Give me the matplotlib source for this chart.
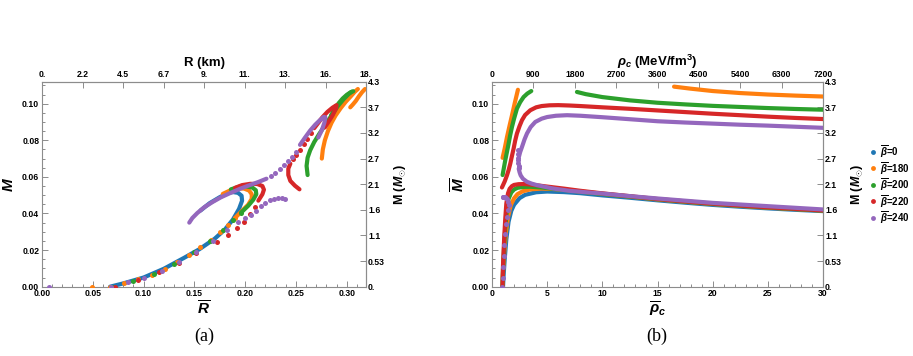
import matplotlib
matplotlib.use("Agg")
import matplotlib.pyplot as plt
from matplotlib.lines import Line2D
from matplotlib.ticker import MultipleLocator

plt.rcParams['font.family'] = ['Liberation Sans', 'DejaVu Sans']
plt.rcParams['mathtext.fontset'] = 'custom'
plt.rcParams['mathtext.it'] = 'Liberation Sans:italic:bold'
plt.rcParams['mathtext.rm'] = 'Liberation Sans:bold'
plt.rcParams['mathtext.bf'] = 'Liberation Sans:bold'

# ---------------- data ----------------
series_labels = [r'$\overline{\beta}$=0', r'$\overline{\beta}$=180', r'$\overline{\beta}$=200',
                 r'$\overline{\beta}$=220', r'$\overline{\beta}$=240']
colors = ['#1f77b4', '#ff7f0e', '#2ca02c', '#d62728', '#9467bd']

# ---- panel (a): Rbar vs Mbar ----
# beta = 0
a0_R = [0.067, 0.08, 0.10, 0.12, 0.14, 0.155, 0.17, 0.18, 0.188, 0.194, 0.197, 0.1965, 0.193, 0.188, 0.183, 0.175, 0.165, 0.156]
a0_M = [0.0, 0.0018, 0.005, 0.0098, 0.0158, 0.0205, 0.0262, 0.0312, 0.0367, 0.0425, 0.047, 0.0497, 0.0513, 0.0517, 0.0512, 0.0489, 0.0456, 0.0416]
# beta = 180
a180_dotR = [0.049, 0.067, 0.081, 0.095, 0.108, 0.121, 0.133, 0.145, 0.156, 0.166, 0.175, 0.183, 0.19]
a180_dotM = [0.0, 0.0, 0.0022, 0.004, 0.0066, 0.0098, 0.0135, 0.0175, 0.0215, 0.0255, 0.0298, 0.0338, 0.0375]
a180_R1 = [0.19, 0.197, 0.203, 0.2065, 0.2065, 0.204, 0.199, 0.193, 0.186, 0.178]
a180_M1 = [0.0375, 0.0415, 0.0448, 0.048, 0.0505, 0.0525, 0.0536, 0.0537, 0.0528, 0.0507]
a180_R2 = [0.2755, 0.2765, 0.2785, 0.2815, 0.285, 0.289, 0.294, 0.299, 0.304, 0.308, 0.311]
a180_M2 = [0.070, 0.075, 0.080, 0.085, 0.0895, 0.0935, 0.0975, 0.101, 0.104, 0.1065, 0.108]
a180_R3 = [0.3035, 0.306, 0.309, 0.312, 0.315, 0.318]
a180_M3 = [0.098, 0.0995, 0.1015, 0.104, 0.1062, 0.108]
# beta = 200
a200_dotR = [0.07, 0.09, 0.11, 0.13, 0.15, 0.165, 0.178, 0.188, 0.196]
a200_dotM = [0.0, 0.003, 0.0072, 0.0125, 0.019, 0.025, 0.0308, 0.0362, 0.0405]
a200_R1 = [0.196, 0.203, 0.208, 0.211, 0.2105, 0.207, 0.201, 0.194, 0.186]
a200_M1 = [0.0405, 0.0442, 0.0475, 0.0505, 0.0527, 0.0542, 0.0548, 0.0546, 0.0532]
a200_R2 = [0.2615, 0.2605, 0.2615, 0.264, 0.268, 0.273, 0.279, 0.285, 0.291, 0.297, 0.302, 0.305]
a200_M2 = [0.061, 0.066, 0.0705, 0.0745, 0.079, 0.0835, 0.0885, 0.0935, 0.0985, 0.1025, 0.1053, 0.1065]
a200_R3 = [0.2845, 0.288, 0.292, 0.296, 0.300, 0.304, 0.3065]
a200_M3 = [0.0935, 0.097, 0.1002, 0.1028, 0.1048, 0.1063, 0.1068]
# beta = 220
a220_dotR = [0.072, 0.095, 0.115, 0.135, 0.152, 0.172, 0.183, 0.192, 0.199, 0.205, 0.21,
             0.247, 0.2505, 0.254, 0.2575, 0.261, 0.2645]
a220_dotM = [0.0, 0.0035, 0.0078, 0.013, 0.0185, 0.0245, 0.0285, 0.032, 0.0355, 0.0395, 0.0435,
             0.0695, 0.0722, 0.0748, 0.0778, 0.0808, 0.0838]
a220_R1 = [0.213, 0.217, 0.2185, 0.217, 0.212, 0.205, 0.197, 0.19]
a220_M1 = [0.047, 0.0505, 0.053, 0.055, 0.0561, 0.0562, 0.0555, 0.054]
a220_R2 = [0.2535, 0.249, 0.2445, 0.2425, 0.2425, 0.2445]
a220_M2 = [0.0532, 0.0552, 0.0578, 0.061, 0.0645, 0.0672]
a220_R3 = [0.268, 0.272, 0.276, 0.281, 0.286, 0.29, 0.2895, 0.286, 0.282, 0.2785]
a220_M3 = [0.0866, 0.0895, 0.0925, 0.0955, 0.0978, 0.0992, 0.0975, 0.0935, 0.090, 0.087]
# beta = 240
a240_dotR = [0.007, 0.068, 0.085, 0.1, 0.118, 0.135, 0.152, 0.168, 0.182, 0.193, 0.2, 0.206, 0.211,
             0.216, 0.22, 0.224, 0.228, 0.232, 0.236, 0.239,
             0.225, 0.229, 0.234, 0.238, 0.242, 0.246, 0.25]
a240_dotM = [0.0, 0.0, 0.0025, 0.005, 0.0088, 0.0135, 0.019, 0.025, 0.031, 0.0355, 0.0375, 0.0391, 0.0415,
             0.044, 0.046, 0.0473, 0.048, 0.0483, 0.0482, 0.0478,
             0.0605, 0.0622, 0.0645, 0.0665, 0.0688, 0.071, 0.0735]
a240_R1 = [0.145, 0.148, 0.153, 0.16, 0.168, 0.176, 0.185, 0.195, 0.205, 0.213, 0.221]
a240_M1 = [0.035, 0.0375, 0.0403, 0.0435, 0.0463, 0.0488, 0.0511, 0.0535, 0.0556, 0.0572, 0.059]
a240_R2 = [0.254, 0.259, 0.264, 0.269, 0.274, 0.2775, 0.279, 0.278, 0.2755, 0.272]
a240_M2 = [0.0775, 0.0815, 0.0853, 0.0885, 0.0912, 0.0928, 0.0925, 0.0895, 0.0855, 0.0815]

# ---- panel (b): rho_c bar vs Mbar ----
b0_rho = [1.0, 1.05, 1.15, 1.3, 1.5, 1.75, 2.0, 2.5, 3.0, 4.0, 5.0, 6.5, 8.0, 10, 12.5, 15, 17.5, 20, 22.5, 25, 27.5, 30]
b0_M = [0.0, 0.006, 0.015, 0.026, 0.0355, 0.0415, 0.0448, 0.0484, 0.0502, 0.0516, 0.052, 0.0517, 0.0511, 0.0499,
        0.0486, 0.0472, 0.0459, 0.0447, 0.0437, 0.0428, 0.042, 0.0413]
b180_rho1 = [0.95, 1.0, 1.1, 1.25, 1.45, 1.7, 2.0, 2.3, 2.8, 3.5, 4.5, 5.5, 7, 10, 15, 20, 25, 30]
b180_M1 = [0.0, 0.008, 0.018, 0.029, 0.038, 0.0445, 0.0483, 0.0505, 0.0522, 0.0532, 0.0536, 0.0534, 0.0527,
           0.0508, 0.0477, 0.0452, 0.0432, 0.0416]
b180_rho2 = [0.96, 1.15, 1.36, 1.6, 1.81, 2.05, 2.35]
b180_M2 = [0.0704, 0.0755, 0.0818, 0.0882, 0.0936, 0.1, 0.1076]
b180_rho3 = [16.5, 18, 20, 22.5, 25, 27.5, 30]
b180_M3 = [0.1093, 0.1082, 0.1069, 0.1058, 0.105, 0.1044, 0.1039]
b200_rho1 = [0.95, 1.0, 1.1, 1.2, 1.35, 1.5, 1.75, 2.0, 2.3, 2.8, 3.5, 4.5, 6, 8, 10, 15, 20, 25, 30]
b200_M1 = [0.0, 0.01, 0.022, 0.032, 0.042, 0.048, 0.0515, 0.0531, 0.054, 0.0545, 0.0546, 0.0542, 0.0532,
           0.0519, 0.0507, 0.0478, 0.0453, 0.0433, 0.0416]
b200_rho2 = [0.96, 1.08, 1.2, 1.35, 1.5, 1.65, 1.81, 2.0, 2.26, 2.55, 2.86, 3.2, 3.56]
b200_M2 = [0.061, 0.065, 0.069, 0.0735, 0.078, 0.0828, 0.0873, 0.0918, 0.0973, 0.1008, 0.1036, 0.1055, 0.1069]
b200_rho3 = [7.7, 8.5, 10, 12.5, 15, 17.5, 20, 22.5, 25, 27.5, 30]
b200_M3 = [0.1064, 0.1052, 0.1036, 0.1018, 0.1005, 0.0996, 0.0988, 0.0982, 0.0976, 0.0971, 0.0967]
b220_rho1 = [0.95, 1.0, 1.1, 1.2, 1.3, 1.45, 1.6, 1.8, 2.0, 2.4, 2.9, 3.5, 4.2, 5, 6.5, 8, 10, 15, 20, 25, 30]
b220_M1 = [0.0, 0.012, 0.026, 0.037, 0.0455, 0.051, 0.0535, 0.0549, 0.0556, 0.056, 0.0561, 0.0558, 0.0553,
           0.0547, 0.0536, 0.0524, 0.051, 0.0479, 0.0454, 0.0434, 0.0417]
b220_rho2 = [0.9, 1.0, 1.15, 1.36, 1.5, 1.66, 1.8, 1.96, 2.1, 2.26, 2.5, 2.72, 3.0, 3.47, 4.0, 4.5, 5.2, 6.0,
             7, 8, 10, 12.5, 15, 17.5, 20, 22.5, 25, 27.5, 30]
b220_M2 = [0.0542, 0.0555, 0.0575, 0.0609, 0.0636, 0.0673, 0.0712, 0.0755, 0.0798, 0.0837, 0.0878, 0.091,
           0.0938, 0.0964, 0.098, 0.0987, 0.0991, 0.0992, 0.099, 0.0987, 0.098, 0.0972, 0.0963, 0.0954, 0.0945,
           0.0937, 0.0929, 0.0922, 0.0916]
b240_dotrho = [0.95, 0.98, 1.02, 1.07, 1.13, 1.2, 1.28, 1.36, 1.44, 1.5, 1.46, 1.38, 1.3, 1.2, 1.1, 1.0, 0.96,
               2.38, 2.39, 2.4, 2.41, 2.42, 2.36, 2.35]
b240_dotM = [0.0, 0.005, 0.011, 0.017, 0.023, 0.029, 0.034, 0.038, 0.042, 0.0445, 0.0465, 0.0477, 0.0485,
             0.049, 0.0492, 0.0492, 0.049, 0.0705, 0.069, 0.0675, 0.066, 0.0648, 0.0725, 0.0745]
b240_rho1 = [2.45, 2.55, 2.72, 2.95, 3.17, 3.5, 3.92, 4.5, 5.0, 5.8, 6.8, 8, 10, 12.5, 15, 17.5, 20, 22.5, 25, 27.5, 30]
b240_M1 = [0.0712, 0.0735, 0.0764, 0.0805, 0.0837, 0.0872, 0.09, 0.0918, 0.0927, 0.0934, 0.0937, 0.0934, 0.0926,
           0.0915, 0.0904, 0.0897, 0.0891, 0.0885, 0.088, 0.0874, 0.0868]
b240_rho2 = [2.42, 2.5, 2.6, 2.8, 3.17, 3.6, 4.07, 5.0, 5.58, 7, 8.5, 10, 12.5, 15, 17.5, 20, 22.5, 25, 27.5, 30]
b240_M2 = [0.0645, 0.0625, 0.0608, 0.059, 0.0573, 0.0563, 0.0555, 0.0543, 0.0536, 0.0524, 0.0516, 0.0509, 0.0495,
           0.0482, 0.047, 0.0458, 0.0449, 0.044, 0.0431, 0.0422]

# tick labels
R_km_labels = ['0.', '2.2', '4.5', '6.7', '9.', '11.', '13.', '16.', '18.']
rho_phys_labels = ['0', '900', '1800', '2700', '3600', '4500', '5400', '6300', '7200']
M_sun_labels = ['0.', '0.53', '1.1', '1.6', '2.1', '2.7', '3.2', '3.7', '4.3']

# ---------------- drawing ----------------
W, H = 913, 356
fig = plt.figure(figsize=(W / 100, H / 100), dpi=100)
axA = fig.add_axes([42 / W, 69.3 / H, 324 / W, 205 / H])
axB = fig.add_axes([492 / W, 69.3 / H, 331 / W, 205 / H])

LW = 3.0
MS = 3.6


def line(ax, x, y, c):
    ax.plot(x, y, color=c, lw=LW, solid_capstyle='round', solid_joinstyle='round', zorder=3)


def dots(ax, x, y, c):
    ax.plot(x, y, ls='none', marker='o', ms=MS, mec='none', mfc=c, zorder=3)


c0, c180, c200, c220, c240 = colors
# panel a
line(axA, a0_R, a0_M, c0)
dots(axA, a180_dotR, a180_dotM, c180)
line(axA, a180_R1, a180_M1, c180)
line(axA, a180_R2, a180_M2, c180)
line(axA, a180_R3, a180_M3, c180)
dots(axA, a200_dotR, a200_dotM, c200)
line(axA, a200_R1, a200_M1, c200)
line(axA, a200_R2, a200_M2, c200)
line(axA, a200_R3, a200_M3, c200)
dots(axA, a220_dotR, a220_dotM, c220)
line(axA, a220_R1, a220_M1, c220)
line(axA, a220_R2, a220_M2, c220)
line(axA, a220_R3, a220_M3, c220)
dots(axA, a240_dotR, a240_dotM, c240)
line(axA, a240_R1, a240_M1, c240)
line(axA, a240_R2, a240_M2, c240)

# panel b
line(axB, b0_rho, b0_M, c0)
line(axB, b180_rho1, b180_M1, c180)
line(axB, b180_rho2, b180_M2, c180)
line(axB, b180_rho3, b180_M3, c180)
line(axB, b200_rho1, b200_M1, c200)
line(axB, b200_rho2, b200_M2, c200)
line(axB, b200_rho3, b200_M3, c200)
line(axB, b220_rho1, b220_M1, c220)
line(axB, b220_rho2, b220_M2, c220)
dots(axB, b240_dotrho, b240_dotM, c240)
line(axB, b240_rho1, b240_M1, c240)
line(axB, b240_rho2, b240_M2, c240)

XMAX_A = 0.319
YMAX = 0.112
FRAME = '#8c8c8c'
TFS = 6.2


def style(ax, xmax, xmajor, xminor, top_labels, bottom_fmt):
    ax.set_xlim(0, xmax)
    ax.set_ylim(0, YMAX)
    ax.xaxis.set_major_locator(MultipleLocator(xmajor))
    ax.xaxis.set_minor_locator(MultipleLocator(xminor))
    ax.yaxis.set_major_locator(MultipleLocator(0.02))
    ax.yaxis.set_minor_locator(MultipleLocator(0.005))
    ax.xaxis.set_major_formatter(bottom_fmt)
    ax.yaxis.set_major_formatter(lambda v, p: f'{v:.2f}')
    for s in ax.spines.values():
        s.set_color(FRAME)
        s.set_linewidth(0.8)
    ax.tick_params(which='both', direction='in', color=FRAME, width=0.7, labelsize=TFS, pad=2)
    ax.tick_params(which='major', length=4)
    ax.tick_params(which='minor', length=2)
    for lab in ax.get_xticklabels() + ax.get_yticklabels():
        lab.set_fontweight('bold')
    top = ax.secondary_xaxis('top')
    top.set_xticks([xmax * i / 8 for i in range(9)], top_labels)
    top.tick_params(direction='in', color=FRAME, width=0.7, length=4, labelsize=TFS, pad=2)
    for lab in top.get_xticklabels():
        lab.set_fontweight('bold')
    top.spines['top'].set_color(FRAME)
    right = ax.secondary_yaxis('right')
    right.set_yticks([YMAX * i / 8 for i in range(9)], M_sun_labels)
    right.tick_params(direction='in', color=FRAME, width=0.7, length=4, labelsize=TFS, pad=1.5)
    for lab in right.get_yticklabels():
        lab.set_fontweight('bold')
    right.spines['right'].set_color(FRAME)
    return top, right


topA, rightA = style(axA, XMAX_A, 0.05, 0.01, R_km_labels, lambda v, p: f'{v:.2f}')
topB, rightB = style(axB, 30, 5, 1, rho_phys_labels, lambda v, p: f'{v:.0f}')

axA.set_xlabel(r'$\overline{R}$', fontsize=11, labelpad=1)
axA.set_ylabel(r'$\overline{M}$', fontsize=11, labelpad=3)
topA.set_xlabel('R (km)', fontsize=9.5, fontweight='bold', labelpad=3)
rightA.set_ylabel(r'M ($M_{\odot}$)', fontsize=9, fontweight='bold', labelpad=5)

axB.set_xlabel(r'$\overline{\rho}_c$', fontsize=11, labelpad=1)
axB.set_ylabel(r'$\overline{M}$', fontsize=11, labelpad=3)
topB.set_xlabel(r'$\rho_c$ (MeV/fm$^3$)', fontsize=9.5, fontweight='bold', labelpad=3)
rightB.set_ylabel(r'M ($M_{\odot}$)', fontsize=9, fontweight='bold', labelpad=5)

fig.text(204 / W, 1 - 336 / H, '(a)', ha='center', va='center', fontsize=13, family='Liberation Serif')
fig.text(657 / W, 1 - 336 / H, '(b)', ha='center', va='center', fontsize=13, family='Liberation Serif')

# legend (manual placement, one row every 16.5 px)
for i, (c, lab) in enumerate(zip(colors, series_labels)):
    y = 1 - (151.7 + 16.5 * i) / H
    fig.add_artist(Line2D([873 / W], [y], ls='none', marker='o', ms=3.5, mec='none', mfc=c,
                          transform=fig.transFigure))
    fig.text(880 / W, y, lab, fontsize=7, fontweight='bold', ha='left', va='center')

fig.savefig('out.png', dpi=100)
